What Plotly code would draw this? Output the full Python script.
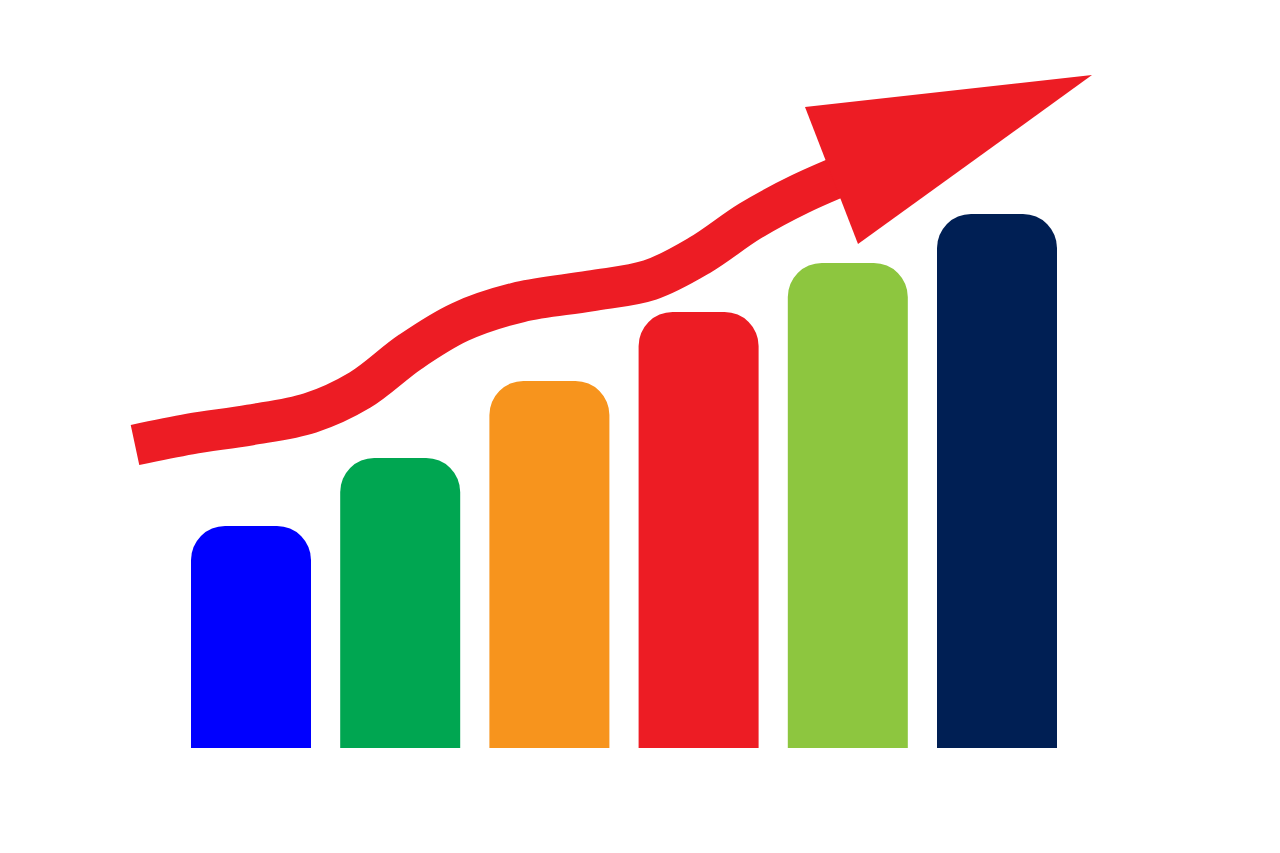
import plotly.graph_objects as go

# Bar data (heights in chart units)
categories = ["Q1", "Q2", "Q3", "Q4", "Q5", "Q6"]
values = [222, 290, 367, 436, 485, 534]
colors = ["#0000FF", "#00A651", "#F7941D", "#ED1C24", "#8DC63F", "#001F54"]

# Trend arrow (shaft centreline) and arrow head, in the overlay axes units
trend_x = [135, 190, 250, 310, 360, 410, 460, 520, 590, 650, 700, 750, 800, 860]
trend_y = [303, 314, 323, 335, 358, 396, 426, 446, 457, 468, 493, 527, 554, 580]
head_x = [805, 1092, 858, 805]
head_y = [641, 673, 504, 641]

RED = "#ED1C24"

fig = go.Figure()
fig.add_trace(go.Bar(
    x=categories, y=values,
    marker=dict(color=colors, cornerradius=34, line=dict(width=0)),
    hoverinfo="skip",
))
fig.add_trace(go.Scatter(
    x=trend_x, y=trend_y, mode="lines",
    line=dict(color=RED, width=41, shape="spline", smoothing=1.0),
    xaxis="x2", yaxis="y2", hoverinfo="skip",
))
fig.add_trace(go.Scatter(
    x=head_x, y=head_y, mode="lines", fill="toself",
    fillcolor=RED, line=dict(color=RED, width=0),
    xaxis="x2", yaxis="y2", hoverinfo="skip",
))

# page has an 8px body margin; ranges compensate so marks land where the reference has them
spacing = 149.2
off = 8
fig.update_layout(
    width=1280, height=853,
    margin=dict(l=0, r=0, t=0, b=0),
    paper_bgcolor="white", plot_bgcolor="white",
    showlegend=False, bargap=1 - 120 / spacing,
    xaxis=dict(range=[-(251 - off) / spacing, (1280 - 251 + off) / spacing],
               visible=False, domain=[0, 1]),
    yaxis=dict(range=[-(853 - 748 + off), 748 - off], visible=False, domain=[0, 1]),
    xaxis2=dict(range=[off, 1280 + off], visible=False, overlaying="x", domain=[0, 1]),
    yaxis2=dict(range=[-(853 - 748 + off), 748 - off], visible=False,
                overlaying="y", domain=[0, 1]),
    hovermode=False,
)

fig.write_html("out.html")
